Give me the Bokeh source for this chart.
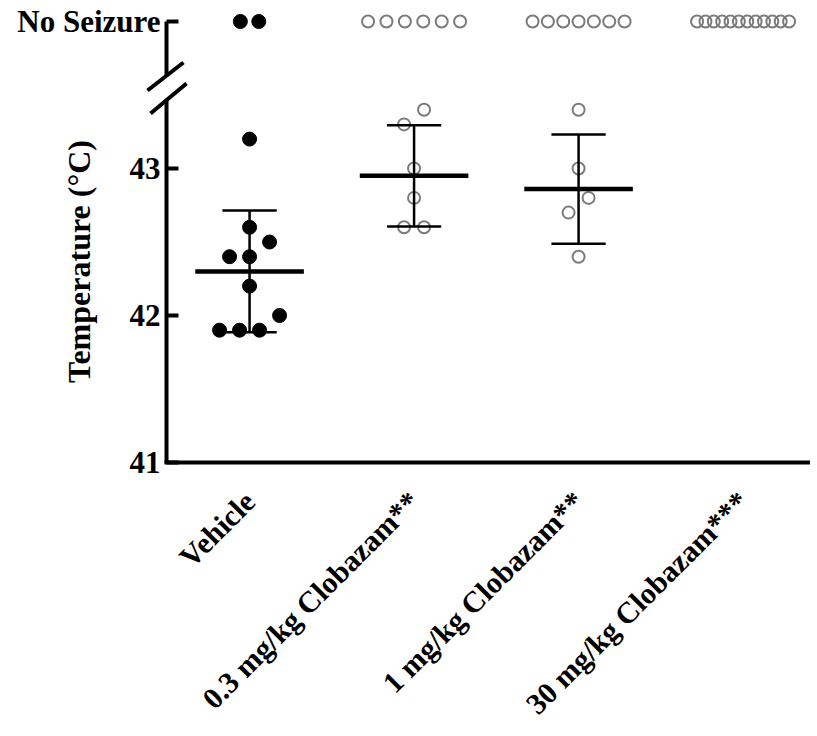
import numpy as np
from math import pi
from bokeh.plotting import figure
from bokeh.models import Range1d, FixedTicker, Label, Arrow, PolyAnnotation
from bokeh.embed import file_html
from bokeh.resources import INLINE

# ---------------- data ----------------
groups = ["Vehicle", "0.3 mg/kg Clobazam**", "1 mg/kg Clobazam**", "30 mg/kg Clobazam***"]
vehicle_temp = [43.2, 42.6, 42.5, 42.4, 42.4, 42.2, 42.0, 41.9, 41.9, 41.9]
clb03_temp = [43.4, 43.3, 43.0, 42.8, 42.6, 42.6]
clb1_temp = [43.4, 43.0, 42.8, 42.7, 42.4]
clb30_temp = []
no_seizure_n = [2, 6, 7, 12]
y_ticks = [41, 42, 43]
no_seizure_label = "No Seizure"
y_label = "Temperature  (°C)"

# ---------------- layout ----------------
FONT = "Liberation Serif"
AXIS_PX = 166          # page x of the y axis
BASE_PX = 462          # page y of the x axis
FRAME_W, FRAME_H = 810, 732
PX_X = 164.5           # px per group
PX_Y = 147.0           # px per degree
X0 = 0.495             # data x of the y axis
Y0 = 41
NS_Y = 44              # level of the "No Seizure" row
x_lo = X0 - AXIS_PX / PX_X
x_hi = x_lo + FRAME_W / PX_X
y_hi = Y0 + BASE_PX / PX_Y
y_lo = y_hi - FRAME_H / PX_Y
x_range = Range1d(x_lo, x_hi)
y_range = Range1d(y_lo, y_hi)

p = figure(frame_width=FRAME_W, frame_height=FRAME_H, x_range=x_range, y_range=y_range,
           min_border_left=0, min_border_right=0, min_border_top=0, min_border_bottom=0,
           output_backend="svg", toolbar_location=None, background_fill_color="white")
p.outline_line_color = None
p.xgrid.visible = False
p.ygrid.visible = False


def swarm(vals, step_px=20.0):
    vals = np.asarray(vals, dtype=float)
    off = np.zeros(len(vals))
    if len(vals) == 0:
        return off
    order = np.argsort(vals, kind="stable")
    clusters, cur, start = [], [], None
    for i in order:
        if cur and vals[i] - start > 0.1 + 1e-9:
            clusters.append(cur)
            cur = []
        if not cur:
            start = vals[i]
        cur.append(i)
    clusters.append(cur)
    for c in clusters:
        k = len(c)
        for j, i in enumerate(c):
            off[i] = (j - (k - 1) / 2) * step_px / PX_X
    return off


def row_offsets(n, max_step=18.4, max_span=92.0):
    if n <= 1:
        return np.zeros(n)
    step = min(max_step, max_span / (n - 1))
    return (np.arange(n) - (n - 1) / 2) * step / PX_X


all_temps = [vehicle_temp, clb03_temp, clb1_temp, clb30_temp]
GREY = "#7b7b7b"

for g, vals in enumerate(all_temps):
    cx = g + 1
    xs = cx + swarm(vals)
    ns_x = cx + row_offsets(no_seizure_n[g])
    ns_y = [NS_Y] * no_seizure_n[g]
    if g == 0:
        p.scatter(list(xs), vals, size=14, fill_color="black", line_color="black")
        p.scatter(list(ns_x), ns_y, size=14, fill_color="black", line_color="black")
    else:
        if len(vals):
            p.scatter(list(xs), vals, size=12, fill_color=None, line_color=GREY, line_width=2)
        p.scatter(list(ns_x), ns_y, size=12, fill_color=None, line_color=GREY, line_width=2)
    if len(vals) > 1:
        m = float(np.mean(vals))
        sd = float(np.std(vals, ddof=1))
        p.segment(x0=[cx], y0=[m - sd], x1=[cx], y1=[m + sd], line_color="black", line_width=2.5)
        p.segment(x0=[cx - 0.165, cx - 0.165], y0=[m - sd, m + sd],
                  x1=[cx + 0.165, cx + 0.165], y1=[m - sd, m + sd], line_color="black", line_width=2.5)
        p.segment(x0=[cx - 0.33], y0=[m], x1=[cx + 0.33], y1=[m], line_color="black", line_width=4.5)

# ---------------- axes ----------------
ya = p.yaxis[0]
ya.fixed_location = X0
ya.ticker = FixedTicker(ticks=y_ticks + [NS_Y])
ya.major_label_overrides = {NS_Y: no_seizure_label}
ya.bounds = (Y0, NS_Y)
ya.axis_line_width = 4
ya.major_tick_line_width = 4
ya.major_tick_in = 12
ya.major_tick_out = 0
ya.minor_tick_line_color = None
ya.major_label_standoff = 6
ya.major_label_text_font = FONT
ya.major_label_text_font_style = "bold"
ya.major_label_text_font_size = "31px"
ya.major_label_text_color = "black"

xa = p.xaxis[0]
xa.fixed_location = Y0
xa.ticker = FixedTicker(ticks=[1, 2, 3, 4])
xa.major_label_overrides = {i + 1: g for i, g in enumerate(groups)}
xa.major_label_orientation = pi / 4
xa.bounds = (X0 - 2 / PX_X, x_hi)
xa.axis_line_width = 4
xa.major_tick_in = 0
xa.major_tick_out = 0
xa.minor_tick_line_color = None
xa.major_label_standoff = 34
xa.major_label_text_font = FONT
xa.major_label_text_font_style = "bold"
xa.major_label_text_font_size = "30px"
xa.major_label_text_color = "black"


def px2d(px, py):
    return X0 + (px - AXIS_PX) / PX_X, Y0 + (BASE_PX - py) / PX_Y


# y axis title
lx, ly = px2d(78, 257)
p.add_layout(Label(x=lx, y=ly, text=y_label, angle=pi / 2,
                   text_align="center", text_baseline="middle", text_font=FONT,
                   text_font_style="bold", text_font_size="32px", text_color="black"))

# axis break: white gap + two slashes
gx0, gy0 = px2d(160, 100)
gx1, gy1 = px2d(172, 76)
p.add_layout(PolyAnnotation(xs=[gx0, gx1, gx1, gx0], ys=[gy0, gy0, gy1, gy1],
                            fill_color="white", fill_alpha=1.0, line_color=None))
for (a, b) in [((147, 90), (183, 62)), ((150, 113), (186, 83))]:
    xs_, ys_ = px2d(*a)
    xe_, ye_ = px2d(*b)
    p.add_layout(Arrow(x_start=xs_, y_start=ys_, x_end=xe_, y_end=ye_, start=None, end=None,
                       line_color="black", line_width=4))

open("out.html", "w").write(file_html(p, INLINE))
